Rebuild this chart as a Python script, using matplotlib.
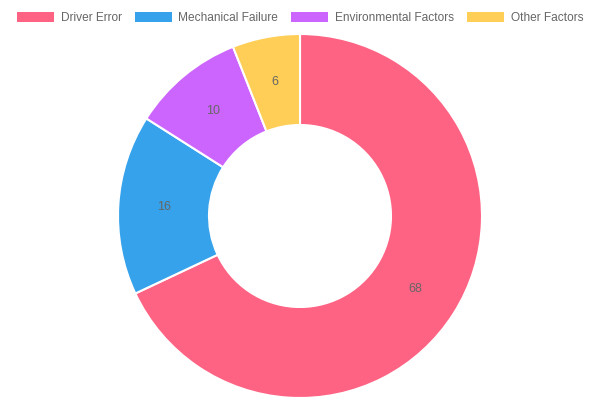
import matplotlib
matplotlib.use("Agg")
import matplotlib.pyplot as plt

categories = ["Driver Error", "Mechanical Failure", "Environmental Factors", "Other Factors"]
values = [68, 16, 10, 6]
colors = ["#FF6384", "#36A2EB", "#CC65FE", "#FFCE56"]

plt.rcParams["font.family"] = ["Liberation Sans", "DejaVu Sans"]

fig = plt.figure(figsize=(6, 4), dpi=100)
ax = fig.add_axes([0, 0, 1, 1])
ax.set_xlim(0, 600)
ax.set_ylim(0, 400)
ax.set_aspect("equal")
ax.axis("off")

total = sum(values)
wedges, texts, autotexts = ax.pie(
    values,
    colors=colors,
    center=(300, 184),
    radius=182,
    startangle=90,
    counterclock=False,
    wedgeprops=dict(width=91, edgecolor="white", linewidth=1.5),
    autopct=lambda p: f"{p * total / 100:.0f}",
    pctdistance=0.75,
    textprops=dict(color="#666666", fontsize=9),
)
ax.set_xlim(0, 600)
ax.set_ylim(0, 400)

leg = fig.legend(
    wedges, categories,
    loc="center", bbox_to_anchor=(0.5, 1 - 18 / 400),
    ncol=4, frameon=False, fontsize=8.6,
    handlelength=3.1, handleheight=0.9, handletextpad=0.55,
    columnspacing=1.1, borderaxespad=0,
)
for t in leg.get_texts():
    t.set_color("#666666")
for h in leg.legend_handles:
    h.set_edgecolor("none")

fig.savefig("out.png", dpi=100)
